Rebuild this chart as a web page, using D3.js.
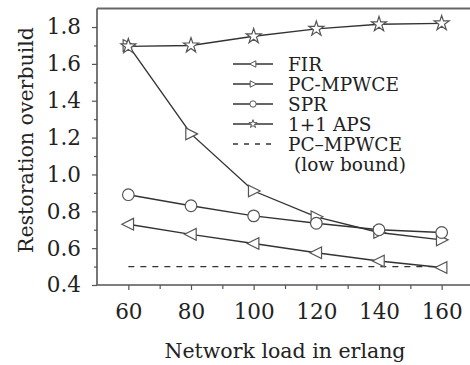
<!DOCTYPE html>
<html>
<head>
<meta charset="utf-8">
<script src="https://cdn.jsdelivr.net/npm/d3@7"></script>
<style>
  html, body { margin: 0; padding: 0; background: #fff; }
  #chart { width: 470px; height: 365px; }
  text { font-family: "DejaVu Serif", "Liberation Serif", serif; fill: #222; }
</style>
</head>
<body>
<div id="chart"></div>
<script>
// Daten
const loads = [60, 80, 100, 120, 140, 160];
const firVals = [0.73, 0.675, 0.625, 0.575, 0.53, 0.495];
const pcVals = [1.70, 1.22, 0.91, 0.77, 0.685, 0.645];
const sprVals = [0.89, 0.83, 0.775, 0.735, 0.70, 0.685];
const apsVals = [1.695, 1.70, 1.75, 1.79, 1.815, 1.82];
const lowBoundVals = [0.5, 0.5, 0.5, 0.5, 0.5, 0.5];
const xTicks = [60, 80, 100, 120, 140, 160];
const yTicks = [0.4, 0.6, 0.8, 1.0, 1.2, 1.4, 1.6, 1.8];
const legendLabels = ["FIR", "PC-MPWCE", "SPR", "1+1 APS", "PC\u2013MPWCE", "(low bound)"];

const width = 470, height = 365;
const ink = "#333";

const svg = d3.select("#chart").append("svg")
    .attr("width", width)
    .attr("height", height);

const x = d3.scaleLinear().domain([50, 170]).range([97, 473]);
const y = d3.scaleLinear().domain([0.4, 1.9]).range([285, 8.6]);

// Rahmen oben
svg.append("line")
    .attr("x1", x(50)).attr("x2", width)
    .attr("y1", y(1.9)).attr("y2", y(1.9))
    .attr("stroke", "#666").attr("stroke-width", 2);

// Achsen
const xAxis = svg.append("g")
    .attr("transform", `translate(0,${y(0.4)})`)
    .call(d3.axisBottom(x).tickValues(xTicks).tickFormat(d3.format("d")).tickSize(5).tickPadding(14));
const xMinor = svg.append("g")
    .attr("transform", `translate(0,${y(0.4)})`)
    .call(d3.axisBottom(x).tickValues(d3.range(70, 170, 20)).tickFormat("").tickSize(4));
xMinor.select(".domain").remove();

const yAxis = svg.append("g")
    .attr("transform", `translate(${x(50)},0)`)
    .call(d3.axisLeft(y).tickValues(yTicks).tickFormat(d3.format(".1f")).tickSize(5).tickPadding(11));
const yMinor = svg.append("g")
    .attr("transform", `translate(${x(50)},0)`)
    .call(d3.axisLeft(y).tickValues(d3.range(0.5, 1.9, 0.2)).tickFormat("").tickSize(3));
yMinor.select(".domain").remove();

svg.selectAll(".domain").attr("stroke", "#555").attr("stroke-width", 1.6);
svg.selectAll(".tick line").attr("stroke", "#555").attr("stroke-width", 1.2);
svg.selectAll(".tick text")
    .attr("font-size", 21.5)
    .attr("fill", "#222");
// die Domain-Linie endet rechts am Rand
xAxis.select(".domain").attr("d", `M${x(50)},0H${width}`);
yAxis.select(".domain").attr("d", `M0,${y(0.4)}V${y(1.9)}`);

// Achsentitel
svg.append("text")
    .attr("x", 285).attr("y", 358)
    .attr("text-anchor", "middle")
    .attr("font-size", 20.5)
    .text("Network load in erlang");

svg.append("text")
    .attr("transform", "translate(33,140) rotate(-90)")
    .attr("text-anchor", "middle")
    .attr("font-size", 20.5)
    .text("Restoration overbuild");

// Symbole
const triLeft = (s) => `M${-s},0L${s * 0.8},${-s * 0.9}L${s * 0.8},${s * 0.9}Z`;
const triRight = (s) => `M${s},0L${-s * 0.8},${-s * 0.9}L${-s * 0.8},${s * 0.9}Z`;
const circ = (s) => d3.symbol(d3.symbolCircle, Math.PI * s * s)();
const star = (s) => d3.symbol(d3.symbolStar, s * s * 1.5)();

const series = [
    { vals: firVals, shape: triLeft, size: 6.5 },
    { vals: pcVals, shape: triRight, size: 6.5 },
    { vals: sprVals, shape: circ, size: 5.8 },
    { vals: apsVals, shape: star, size: 6.8 }
];

const line = d3.line().x((d, i) => x(loads[i])).y(d => y(d));

// Untere Schranke (gestrichelt)
svg.append("path")
    .attr("d", line(lowBoundVals))
    .attr("fill", "none")
    .attr("stroke", ink)
    .attr("stroke-width", 1.3)
    .attr("stroke-dasharray", "6,6");

series.forEach(s => {
    svg.append("path")
        .attr("d", line(s.vals))
        .attr("fill", "none")
        .attr("stroke", ink)
        .attr("stroke-width", 1.4);
});
series.forEach(s => {
    svg.append("g").selectAll("path")
        .data(s.vals)
        .join("path")
        .attr("transform", (d, i) => `translate(${x(loads[i])},${y(d)})`)
        .attr("d", s.shape(s.size))
        .attr("fill", "#fff")
        .attr("stroke", "#555")
        .attr("stroke-width", 1.2);
});

// Legende
const legend = svg.append("g").attr("transform", "translate(233,64)");
const rowH = 20;
legendLabels.forEach((lab, i) => {
    const ry = i * rowH;
    if (i < 4) {
        legend.append("line")
            .attr("x1", 0).attr("x2", 40).attr("y1", ry).attr("y2", ry)
            .attr("stroke", ink).attr("stroke-width", 1.3);
        legend.append("path")
            .attr("transform", `translate(20,${ry})`)
            .attr("d", series[i].shape(series[i].size * 0.55))
            .attr("fill", "#fff")
            .attr("stroke", "#555")
            .attr("stroke-width", 1);
    } else if (i === 4) {
        legend.append("line")
            .attr("x1", 0).attr("x2", 40).attr("y1", ry).attr("y2", ry)
            .attr("stroke", ink).attr("stroke-width", 1.3)
            .attr("stroke-dasharray", "5,6");
    }
    legend.append("text")
        .attr("x", i === 5 ? 61 : 55)
        .attr("y", ry)
        .attr("dy", "0.36em")
        .attr("font-size", 18.5)
        .text(lab);
});
</script>
</body>
</html>
